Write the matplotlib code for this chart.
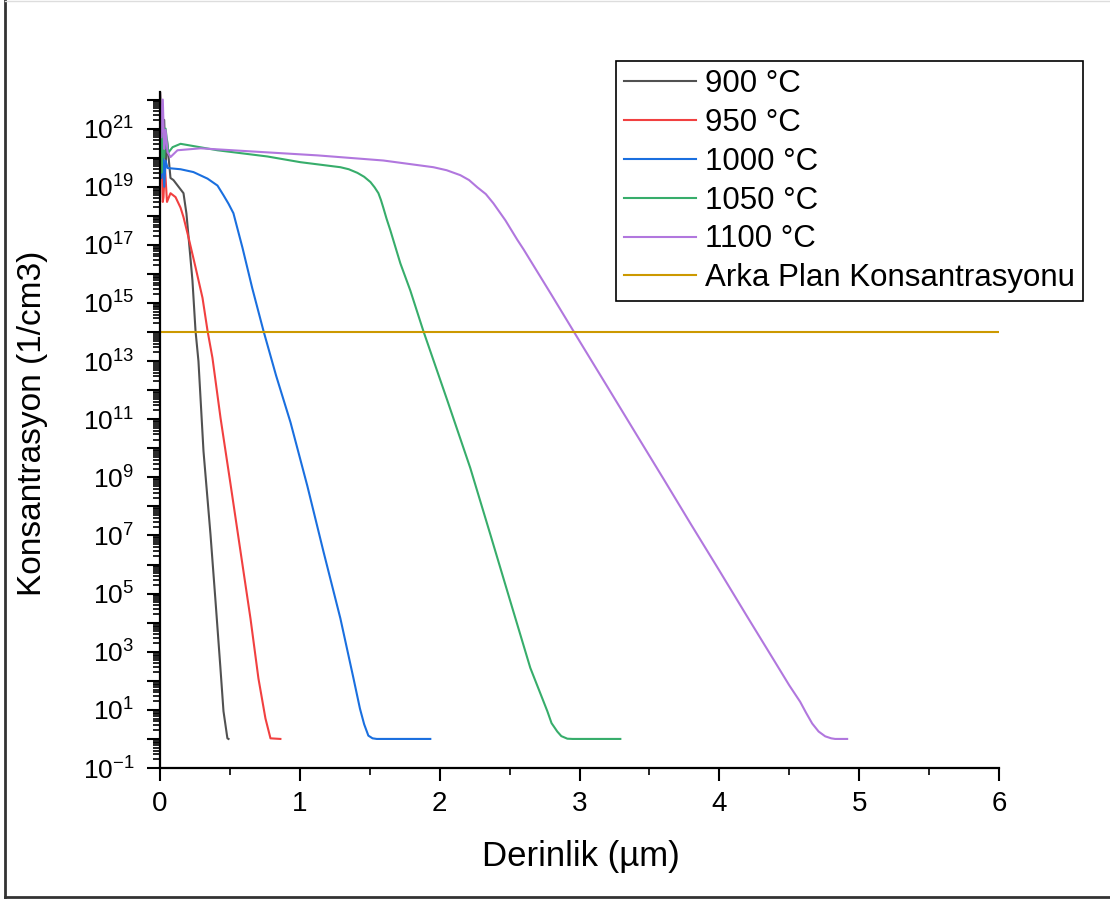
#!/usr/bin/env python3

import math
import matplotlib
matplotlib.use("Agg")
import matplotlib.pyplot as plt
import matplotlib.ticker as ticker
from matplotlib.lines import Line2D

plt.rcParams["font.family"] = ["Liberation Sans", "DejaVu Sans"]
plt.rcParams["mathtext.fontset"] = "custom"
plt.rcParams["mathtext.rm"] = "Liberation Sans"
plt.rcParams["mathtext.default"] = "regular"

# Depth profiles (depth in um, concentration in 1/cm3)
depth_900 = [0.0, 0.01, 0.02, 0.03, 0.04, 0.05, 0.075, 0.096, 0.168, 0.189, 0.211,
             0.232, 0.254, 0.275, 0.311, 0.361, 0.397, 0.432, 0.454, 0.482, 0.49]
conc_900 = [2e22, 1e21, 3e20, 2e21, 5e19, 4e20, 2e19, 1.7e19, 6e18, 1.2e18, 8e16,
            6e15, 1.1e14, 1e13, 8e9, 1.1e7, 5.5e4, 2.8e2, 9, 1.05, 1]

depth_950 = [0.0, 0.01, 0.02, 0.025, 0.035, 0.05, 0.075, 0.111, 0.147, 0.168, 0.204,
             0.254, 0.304, 0.340, 0.375, 0.433, 0.504, 0.575, 0.647, 0.704, 0.754,
             0.790, 0.861]
conc_950 = [2e22, 2e20, 3e18, 4.4e18, 5e19, 3e18, 6e18, 4.4e18, 1.9e18, 9e17, 1.8e17,
            1.7e16, 1.5e15, 1.1e14, 1.3e13, 1.1e11, 6e8, 3e6, 1.4e4, 1.2e2, 5.1,
            1.05, 1]

depth_1000 = [0.0, 0.01, 0.02, 0.03, 0.04, 0.054, 0.147, 0.239, 0.340, 0.411, 0.454,
              0.49, 0.525, 0.59, 0.66, 0.74, 0.83, 0.933, 1.054, 1.169, 1.29,
              1.383, 1.43, 1.46, 1.49, 1.52, 1.55, 1.933]
conc_1000 = [8e20, 2e19, 2e20, 1e19, 8e19, 4.4e19, 4e19, 3.2e19, 1.9e19, 1.1e19, 5.1e18,
             2.6e18, 1.23e18, 7.9e16, 3.2e15, 1.1e14, 3.2e12, 7.9e10, 5e8, 2.8e6, 1.4e4,
             1.26e2, 11, 3.2, 1.3, 1.05, 1, 1]

depth_1050 = [0.0, 0.01, 0.02, 0.03, 0.04, 0.06, 0.09, 0.147, 0.411, 0.768, 1.004,
              1.290, 1.35, 1.412, 1.46, 1.505, 1.535, 1.562, 1.58, 1.597, 1.62, 1.647,
              1.719, 1.790, 1.883, 2.055, 2.219, 2.362, 2.505, 2.648, 2.77, 2.80,
              2.841, 2.87, 2.913, 2.95, 3.292]
conc_1050 = [2e22, 3e19, 6e20, 1e20, 1e21, 1.5e20, 2.3e20, 3e20, 1.8e20, 1.1e20, 7e19,
             4.7e19, 4e19, 3e19, 2.2e19, 1.45e19, 9.5e18, 6e18, 3.5e18, 1.9e18, 8e17, 3.2e17,
             2.3e16, 2.7e15, 1.1e14, 4.4e11, 2.1e9, 1.1e7, 5.5e4, 2.8e2, 9, 3.5,
             1.8, 1.25, 1.02, 1, 1]

depth_1100 = [0.0, 0.01, 0.02, 0.03, 0.04, 0.054, 0.075, 0.125, 0.29, 0.647, 1.126,
              1.597, 1.955, 2.05, 2.148, 2.21, 2.27, 2.33, 2.384, 2.47, 2.555, 2.6,
              2.8, 3.0, 3.2, 3.4, 3.6, 3.8, 4.0, 4.2, 4.4, 4.5, 4.578, 4.62, 4.664,
              4.71, 4.757, 4.80, 4.828, 4.914]
conc_1100 = [2e22, 5e20, 1e22, 2e20, 9e20, 1.55e20, 1.05e20, 1.8e20, 2.1e20, 1.65e20, 1.2e20,
             8e19, 4.7e19, 3.7e19, 2.5e19, 1.7e19, 9.5e18, 5.6e18, 2.7e18, 7e17, 1.5e17, 7e16,
             1.9e15, 4.9e13, 1.3e12, 3.4e10, 9e8, 2.3e7, 6.2e5, 1.6e4, 4.3e2, 70, 19, 8, 3.4,
             1.8, 1.23, 1.05, 1, 1]

background_depth = [0.0, 6.0]
background_conc = [1e14, 1e14]

labels = ["900 °C", "950 °C", "1000 °C", "1050 °C", "1100 °C",
          "Arka Plan Konsantrasyonu"]
colors = ["#515151", "#F14040", "#1A6FDF", "#37AD6B", "#B177DE", "#CC9900"]

fig = plt.figure(figsize=(11.10, 8.99), dpi=100)
ax = fig.add_axes([160 / 1110, 1 - 768 / 899, (999 - 160) / 1110, (768 - 92) / 899])

series = [(depth_900, conc_900), (depth_950, conc_950), (depth_1000, conc_1000),
          (depth_1050, conc_1050), (depth_1100, conc_1100),
          (background_depth, background_conc)]
for (d, c), lab, col in zip(series, labels, colors):
    ax.plot(d, c, color=col, lw=1.5, label=lab)

ax.set_yscale("log")
ax.set_xlim(0, 6)
ax.set_ylim(1e-1, 10 ** 22.26)

for side in ["top", "right"]:
    ax.spines[side].set_visible(False)
for side in ["left", "bottom"]:
    ax.spines[side].set_linewidth(1.6)

ax.xaxis.set_major_locator(ticker.MultipleLocator(1))
ax.xaxis.set_minor_locator(ticker.MultipleLocator(0.5))

def odd_decades(val, pos):
    # only every second decade gets a label
    e = int(round(math.log10(val)))
    if e % 2 == 0:
        return ""
    return r"$10^{%d}$" % e

ax.yaxis.set_major_locator(ticker.LogLocator(base=10, numticks=40))
ax.yaxis.set_major_formatter(ticker.FuncFormatter(odd_decades))
ax.yaxis.set_minor_locator(ticker.LogLocator(base=10, subs=range(2, 10), numticks=40))
ax.yaxis.set_minor_formatter(ticker.NullFormatter())

ax.tick_params(axis="both", which="major", direction="out", length=9.5, width=1.5)
ax.tick_params(axis="both", which="minor", direction="out", length=5, width=1.2)
ax.tick_params(axis="x", which="major", labelsize=20, pad=7)
ax.tick_params(axis="y", which="major", labelsize=19, pad=9)

ax.set_xlabel("Derinlik (µm)", fontsize=25)
ax.set_ylabel("Konsantrasyon (1/cm3)", fontsize=24)
ax.xaxis.set_label_coords(0.502, -0.1065)
ax.yaxis.set_label_coords(-0.1335, 0.51)

leg = fig.legend(loc="upper right", bbox_to_anchor=(1083 / 1110, 1 - 61 / 899),
                 bbox_transform=fig.transFigure, fontsize=22.5, frameon=True,
                 fancybox=False, edgecolor="black", framealpha=1,
                 handlelength=2.3, handletextpad=0.3, labelspacing=0.285,
                 borderpad=0.25, borderaxespad=0)
leg.get_frame().set_linewidth(1.2)

# thin frame around the whole picture
fig.add_artist(Line2D([5 / 1110, 5 / 1110], [0.002, 1], transform=fig.transFigure,
                      color="#333333", lw=2))
fig.add_artist(Line2D([5 / 1110, 1], [2 / 899, 2 / 899], transform=fig.transFigure,
                      color="#333333", lw=2))
fig.add_artist(Line2D([5 / 1110, 1], [0.999, 0.999], transform=fig.transFigure,
                      color="#dddddd", lw=1))

fig.savefig("out.png", dpi=100)
